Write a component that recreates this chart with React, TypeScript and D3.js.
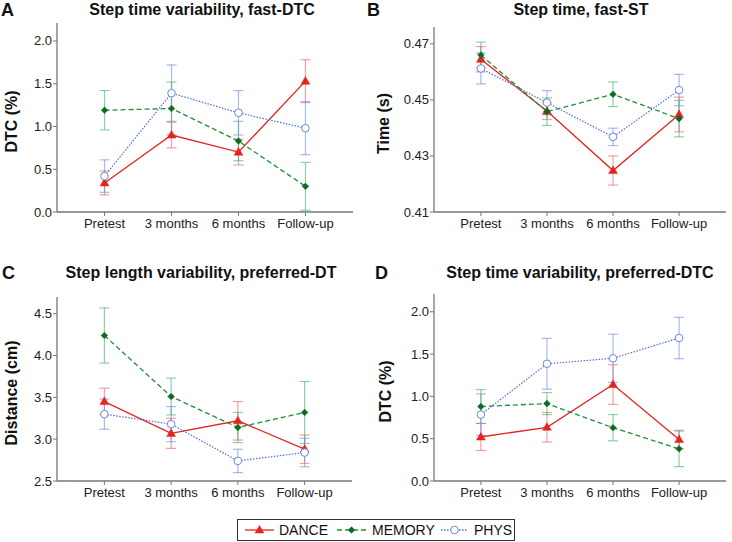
import React from "react";
import * as d3 from "d3";

const categories = ["Pretest", "3 months", "6 months", "Follow-up"];
const seriesNames = ["DANCE", "MEMORY", "PHYS"];

// Panel A: Step time variability, fast-DTC
const aDance = [0.34, 0.9, 0.7, 1.53];
const aDanceErr = [0.14, 0.15, 0.15, 0.25];
const aMemory = [1.19, 1.21, 0.83, 0.3];
const aMemoryErr = [0.23, 0.31, 0.23, 0.28];
const aPhys = [0.42, 1.39, 1.16, 0.98];
const aPhysErr = [0.19, 0.33, 0.26, 0.31];

// Panel B: Step time, fast-ST
const bDance = [0.4645, 0.446, 0.4248, 0.4448];
const bDanceErr = [0.0045, 0.003, 0.0052, 0.0062];
const bMemory = [0.466, 0.4458, 0.452, 0.4433];
const bMemoryErr = [0.0046, 0.0049, 0.0044, 0.0065];
const bPhys = [0.4612, 0.449, 0.4368, 0.4535];
const bPhysErr = [0.0055, 0.0043, 0.0031, 0.0056];

// Panel C: Step length variability, preferred-DT
const cDance = [3.45, 3.07, 3.22, 2.88];
const cDanceErr = [0.16, 0.18, 0.23, 0.17];
const cMemory = [4.24, 3.51, 3.14, 3.32];
const cMemoryErr = [0.33, 0.22, 0.18, 0.37];
const cPhys = [3.3, 3.18, 2.74, 2.84];
const cPhysErr = [0.18, 0.21, 0.14, 0.17];

// Panel D: Step time variability, preferred-DTC
const dDance = [0.52, 0.635, 1.14, 0.49];
const dDanceErr = [0.16, 0.175, 0.235, 0.11];
const dMemory = [0.88, 0.915, 0.63, 0.38];
const dMemoryErr = [0.2, 0.13, 0.155, 0.21];
const dPhys = [0.785, 1.385, 1.45, 1.69];
const dPhysErr = [0.245, 0.3, 0.285, 0.245];

const aTicks = [0, 0.5, 1.0, 1.5, 2.0];
const bTicks = [0.41, 0.43, 0.45, 0.47];
const cTicks = [2.5, 3.0, 3.5, 4.0, 4.5];
const dTicks = [0, 0.5, 1.0, 1.5, 2.0];

const FONT = "'Liberation Sans', Arial, sans-serif";

const styles = [
  { line: "#e5231f", dash: "none", err: "rgba(235,80,90,0.55)", marker: "tri", fill: "#e5231f", stroke: "#e5231f" },
  { line: "#1f8f3a", dash: "5,3", err: "rgba(60,180,110,0.6)", marker: "dia", fill: "#0b6b1f", stroke: "#0b6b1f" },
  { line: "#4a6fd8", dash: "1.5,1.5", err: "rgba(110,140,220,0.6)", marker: "circ", fill: "#ffffff", stroke: "#6a8ae0" },
];

type PanelProps = {
  letter: string;
  title: string;
  titleX: number;
  titleY: number;
  ylabel: string;
  ylabelX: number;
  x0: number;
  x1: number;
  yTop: number;
  yBot: number;
  domain: [number, number];
  ticks: number[];
  fmt: (v: number) => string;
  data: number[][];
  errs: number[][];
  letterX: number;
};

function Marker({ kind, x, y, s }: { kind: string; x: number; y: number; s: any }) {
  if (kind === "tri") {
    const p = d3.symbol().type(d3.symbolTriangle).size(34)();
    return <path d={p as string} transform={`translate(${x},${y + 0.5})`} fill={s.fill} stroke={s.stroke} strokeWidth={0.5} />;
  }
  if (kind === "dia") {
    const p = d3.symbol().type(d3.symbolSquare).size(22)();
    return <path d={p as string} transform={`translate(${x},${y}) rotate(45)`} fill={s.fill} stroke={s.stroke} strokeWidth={0.5} />;
  }
  return <circle cx={x} cy={y} r={3.8} fill={s.fill} stroke={s.stroke} strokeWidth={1} />;
}

function Panel(p: PanelProps) {
  const x = d3.scalePoint<string>().domain(categories).range([p.x0, p.x1]).padding(0.71);
  const y = d3.scaleLinear().domain(p.domain).range([p.yBot, p.yTop]);
  const line = d3
    .line<number>()
    .x((_, i) => x(categories[i]) as number)
    .y((v) => y(v));
  const axisColor = "#777";
  return (
    <g fontFamily={FONT}>
      <text x={p.letterX} y={p.titleY + 1} fontSize={18} fontWeight="bold" fill="#111">
        {p.letter}
      </text>
      <text x={p.titleX} y={p.titleY} fontSize={16} fontWeight="bold" textAnchor="middle" fill="#111">
        {p.title}
      </text>
      <text
        transform={`translate(${p.ylabelX},${(p.yTop + p.yBot) / 2 + 4}) rotate(-90)`}
        fontSize={16}
        fontWeight="bold"
        textAnchor="middle"
        fill="#111"
      >
        {p.ylabel}
      </text>
      {/* axes */}
      <line x1={p.x0} x2={p.x0} y1={p.yTop} y2={p.yBot} stroke={axisColor} strokeWidth={1.3} />
      <line x1={p.x0} x2={p.x1} y1={p.yBot} y2={p.yBot} stroke={axisColor} strokeWidth={1.3} />
      {p.ticks.map((t) => (
        <g key={t}>
          <line x1={p.x0 - 4} x2={p.x0} y1={y(t)} y2={y(t)} stroke={axisColor} strokeWidth={1} />
          <text x={p.x0 - 5} y={y(t) + 4.5} fontSize={13} textAnchor="end" fill="#222">
            {p.fmt(t)}
          </text>
        </g>
      ))}
      {categories.map((c) => (
        <g key={c}>
          <line x1={x(c)} x2={x(c)} y1={p.yBot} y2={p.yBot + 4} stroke={axisColor} strokeWidth={1} />
          <text x={x(c)} y={p.yBot + 16} fontSize={13} textAnchor="middle" fill="#222">
            {c}
          </text>
        </g>
      ))}
      {/* error bars */}
      {p.data.map((ser, si) =>
        ser.map((v, i) => {
          const cx = x(categories[i]) as number;
          const e = p.errs[si][i];
          const s = styles[si];
          return (
            <g key={`e${si}-${i}`} stroke={s.err} strokeWidth={1.2}>
              <line x1={cx} x2={cx} y1={y(v - e)} y2={y(v + e)} />
              <line x1={cx - 5} x2={cx + 5} y1={y(v - e)} y2={y(v - e)} />
              <line x1={cx - 5} x2={cx + 5} y1={y(v + e)} y2={y(v + e)} />
            </g>
          );
        })
      )}
      {/* lines */}
      {p.data.map((ser, si) => (
        <path
          key={`l${si}`}
          d={line(ser) as string}
          fill="none"
          stroke={styles[si].line}
          strokeWidth={si === 2 ? 1.2 : 1.3}
          strokeDasharray={styles[si].dash}
        />
      ))}
      {/* markers */}
      {p.data.map((ser, si) =>
        ser.map((v, i) => (
          <Marker key={`m${si}-${i}`} kind={styles[si].marker} x={x(categories[i]) as number} y={y(v)} s={styles[si]} />
        ))
      )}
    </g>
  );
}

function Legend() {
  const items = [
    { x1: 245, x2: 274, tx: 279 },
    { x1: 337, x2: 366, tx: 372 },
    { x1: 441, x2: 468, tx: 474 },
  ];
  const yc = 530;
  return (
    <g fontFamily={FONT}>
      <rect x={237.5} y={519.5} width={277} height={21} fill="#fff" stroke="#333" strokeWidth={1} />
      {items.map((it, i) => (
        <g key={i}>
          <line
            x1={it.x1}
            x2={it.x2}
            y1={yc}
            y2={yc}
            stroke={styles[i].line}
            strokeWidth={1.3}
            strokeDasharray={styles[i].dash}
          />
          <Marker kind={styles[i].marker} x={(it.x1 + it.x2) / 2} y={yc} s={styles[i]} />
          <text x={it.tx} y={yc + 5} fontSize={14} fill="#111">
            {seriesNames[i]}
          </text>
        </g>
      ))}
    </g>
  );
}

export default function App() {
  const f1 = (v: number) => v.toFixed(1);
  const f2 = (v: number) => v.toFixed(2);
  return (
    <svg width={732} height={542} style={{ position: "absolute", left: 0, top: 0, background: "#fff" }}>
      <rect width={732} height={542} fill="#fff" />
      <Panel
        letter="A"
        letterX={1}
        title="Step time variability, fast-DTC"
        titleX={202}
        titleY={15}
        ylabel="DTC (%)"
        ylabelX={17}
        x0={57}
        x1={353}
        yTop={23}
        yBot={212}
        domain={[0, 2.21]}
        ticks={aTicks}
        fmt={f1}
        data={[aDance, aMemory, aPhys]}
        errs={[aDanceErr, aMemoryErr, aPhysErr]}
      />
      <Panel
        letter="B"
        letterX={367}
        title="Step time, fast-ST"
        titleX={581}
        titleY={15}
        ylabel="Time (s)"
        ylabelX={389}
        x0={434}
        x1={726}
        yTop={27}
        yBot={212}
        domain={[0.41, 0.476]}
        ticks={bTicks}
        fmt={f2}
        data={[bDance, bMemory, bPhys]}
        errs={[bDanceErr, bMemoryErr, bPhysErr]}
      />
      <Panel
        letter="C"
        letterX={2}
        title="Step length variability, preferred-DT"
        titleX={201}
        titleY={278}
        ylabel="Distance (cm)"
        ylabelX={17}
        x0={57}
        x1={352}
        yTop={297}
        yBot={481}
        domain={[2.5, 4.7]}
        ticks={cTicks}
        fmt={f1}
        data={[cDance, cMemory, cPhys]}
        errs={[cDanceErr, cMemoryErr, cPhysErr]}
      />
      <Panel
        letter="D"
        letterX={375}
        title="Step time variability, preferred-DTC"
        titleX={580}
        titleY={278}
        ylabel="DTC (%)"
        ylabelX={391}
        x0={434}
        x1={726}
        yTop={294}
        yBot={481}
        domain={[0, 2.21]}
        ticks={dTicks}
        fmt={f1}
        data={[dDance, dMemory, dPhys]}
        errs={[dDanceErr, dMemoryErr, dPhysErr]}
      />
      <Legend />
    </svg>
  );
}
